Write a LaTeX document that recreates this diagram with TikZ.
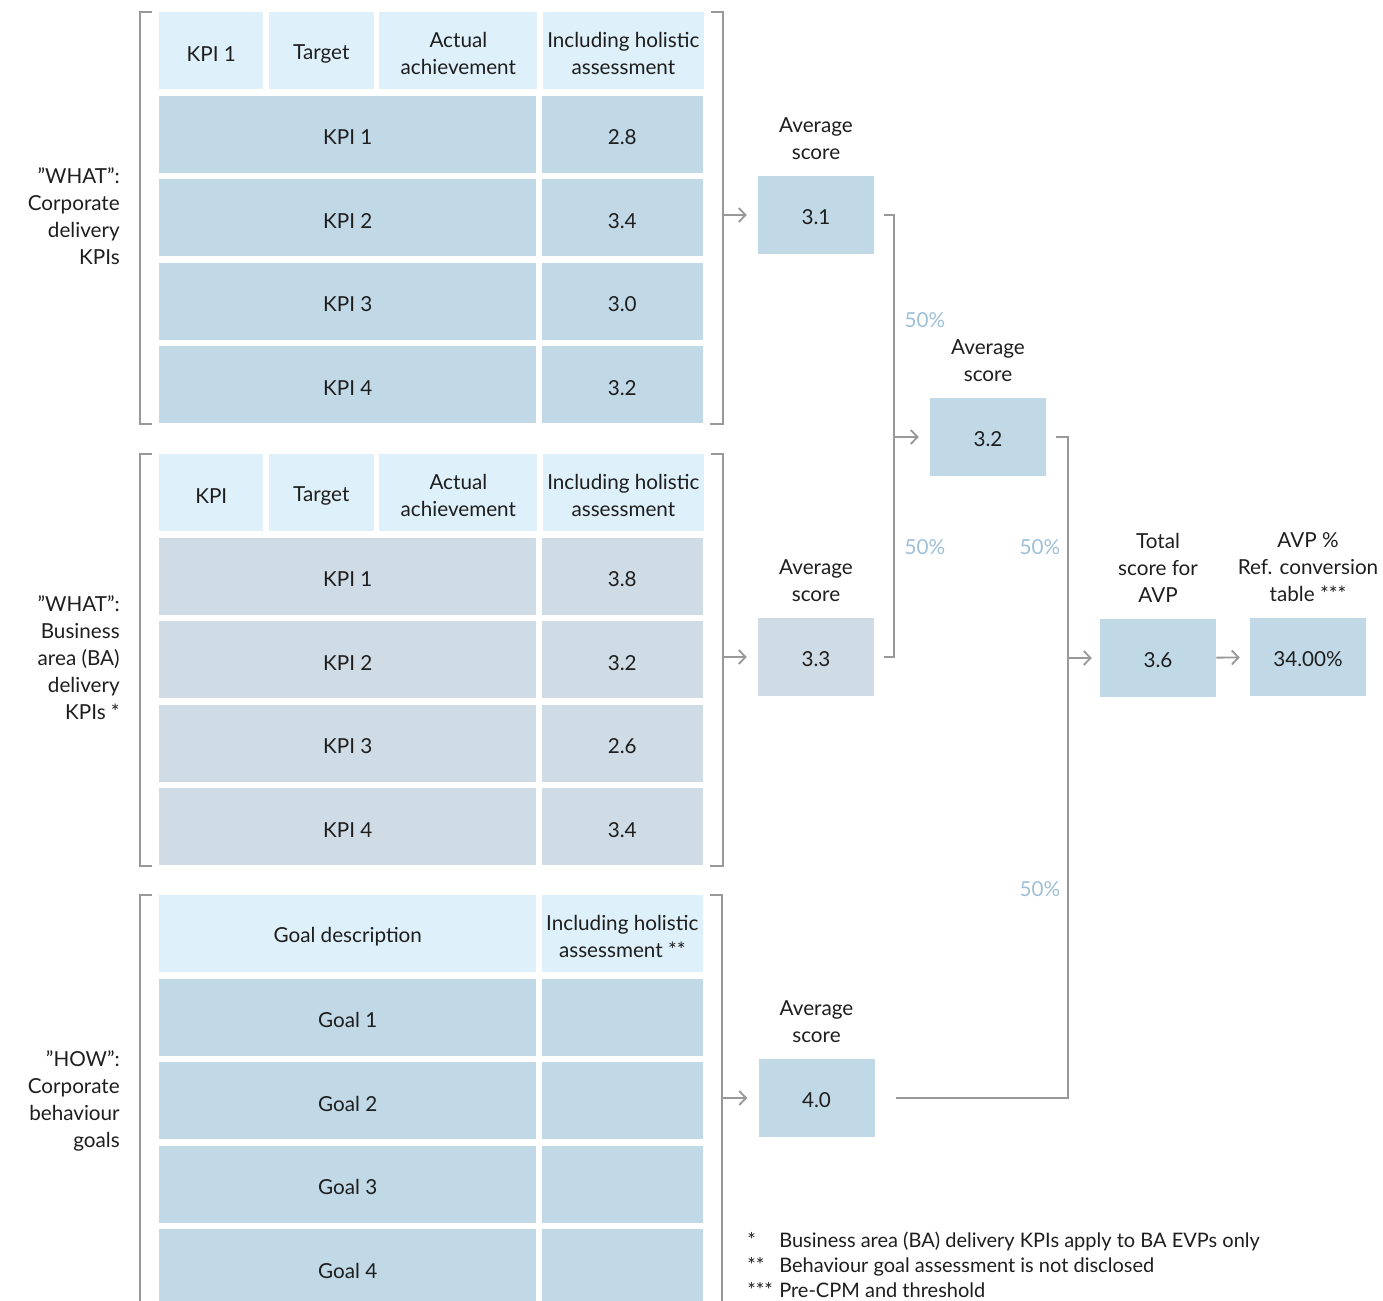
\documentclass[tikz,border=0pt]{standalone}
\usepackage{fontspec}
\setmainfont{Lato}
\usetikzlibrary{arrows.meta,positioning}
\definecolor{headfill}{HTML}{DEF0FA}
\definecolor{corpfill}{HTML}{C1D9E7}
\definecolor{bafill}{HTML}{CFDCE6}
\definecolor{linegray}{HTML}{999999}
\definecolor{pctblue}{HTML}{9DBFD7}
\definecolor{ink}{HTML}{1E1E1E}
\newcommand{\hstrut}{\rule{0pt}{15.5pt}}

\begin{document}
\begin{tikzpicture}[
  x=0.75pt, y=-0.75pt,
  every node/.style={font=\fontsize{15.5}{20.25}\selectfont, text=ink},
  cell/.style={inner sep=0pt, align=center, minimum height=57.75pt,
               execute at begin node={\hstrut}},
  head/.style={cell, fill=headfill},
  corp/.style={cell, fill=corpfill},
  ba/.style={cell, fill=bafill},
  wkpi/.style={minimum width=78pt},
  wtgt/.style={minimum width=78.75pt},
  wact/.style={minimum width=118.5pt},
  wname/.style={minimum width=282.75pt},
  wscore/.style={minimum width=120.75pt},
  sidelabel/.style={anchor=east, align=right, inner sep=0pt},
  avgbox/.style={inner sep=0pt, minimum width=87pt, minimum height=58.5pt, fill=corpfill,
                 execute at begin node={\rule{0pt}{14pt}}},
  caption/.style={inner sep=0pt, align=center},
  pct/.style={inner sep=0pt, text=pctblue},
  line/.style={draw=linegray, line width=1.4pt},
  arrow/.style={line, -{Straight Barb[length=5pt,width=10.5pt]}, shorten >=8.25pt}
]
  \useasboundingbox (0,0) rectangle (1383,1301);
  \clip (0,0) rectangle (1383,1301);

  % corporate delivery KPIs
  \node[head, wkpi, anchor=north west] (h1kpi) at (159,12) {KPI 1};
  \node[head, wtgt, right=3.75pt of h1kpi] (h1tgt) {Target};
  \node[head, wact, right=3.75pt of h1tgt] (h1act) {\hstrut Actual\\achievement};
  \node[head, wscore, right=3.75pt of h1act] (h1hol) {\hstrut Including holistic\\assessment};
  \node[corp, wname, below=4.5pt of h1kpi.south west, anchor=north west] (c1a) {KPI 1};
  \node[corp, wscore, right=3.75pt of c1a] (c1b) {2.8};
  \node[corp, wname, below=4.5pt of c1a] (c2a) {KPI 2};
  \node[corp, wscore, right=3.75pt of c2a] (c2b) {3.4};
  \node[corp, wname, below=4.5pt of c2a] (c3a) {KPI 3};
  \node[corp, wscore, right=3.75pt of c3a] (c3b) {3.0};
  \node[corp, wname, below=4.5pt of c3a] (c4a) {KPI 4};
  \node[corp, wscore, right=3.75pt of c4a] (c4b) {3.2};
  \node[sidelabel] (lblA) at (120,216) {”WHAT”:\\Corporate\\delivery\\KPIs};

  % business area delivery KPIs
  \node[head, wkpi, anchor=north west] (h2kpi) at (159,454) {KPI};
  \node[head, wtgt, right=3.75pt of h2kpi] (h2tgt) {Target};
  \node[head, wact, right=3.75pt of h2tgt] (h2act) {\hstrut Actual\\achievement};
  \node[head, wscore, right=3.75pt of h2act] (h2hol) {\hstrut Including holistic\\assessment};
  \node[ba, wname, below=4.5pt of h2kpi.south west, anchor=north west] (b1a) {KPI 1};
  \node[ba, wscore, right=3.75pt of b1a] (b1b) {3.8};
  \node[ba, wname, below=4.5pt of b1a] (b2a) {KPI 2};
  \node[ba, wscore, right=3.75pt of b2a] (b2b) {3.2};
  \node[ba, wname, below=4.5pt of b2a] (b3a) {KPI 3};
  \node[ba, wscore, right=3.75pt of b3a] (b3b) {2.6};
  \node[ba, wname, below=4.5pt of b3a] (b4a) {KPI 4};
  \node[ba, wscore, right=3.75pt of b4a] (b4b) {3.4};
  \node[sidelabel] (lblB) at (120,658) {”WHAT”:\\Business\\area (BA)\\delivery\\KPIs *};

  % corporate behaviour goals
  \node[head, wname, anchor=north west] (h3goal) at (159,895) {Goal description};
  \node[head, wscore, right=3.75pt of h3goal] (h3hol) {\hstrut Including holistic\\assessment **};
  \node[corp, wname, below=4.5pt of h3goal] (g1a) {Goal 1};
  \node[corp, wscore, right=3.75pt of g1a] (g1b) {};
  \node[corp, wname, below=4.5pt of g1a] (g2a) {Goal 2};
  \node[corp, wscore, right=3.75pt of g2a] (g2b) {};
  \node[corp, wname, below=4.5pt of g2a] (g3a) {Goal 3};
  \node[corp, wscore, right=3.75pt of g3a] (g3b) {};
  \node[corp, wname, below=4.5pt of g3a] (g4a) {Goal 4};
  \node[corp, wscore, right=3.75pt of g4a] (g4b) {};
  \node[sidelabel] (lblC) at (120,1101) {”HOW”:\\Corporate\\behaviour\\goals};

  % scores
  \node[avgbox] (avgA) at (816,215) {3.1};
  \node[caption, above=12pt of avgA] (capA) {Average\\score};
  \node[avgbox, fill=bafill] (avgB) at (816,657) {3.3};
  \node[caption, above=12pt of avgB] (capB) {Average\\score};
  \node[avgbox] (avgD) at (816.5,1098) {4.0};
  \node[caption, above=12pt of avgD] (capD) {Average\\score};
  \node[avgbox] (avgC) at (988,437) {3.2};
  \node[caption, above=12pt of avgC] (capC) {Average\\score};
  \node[avgbox] (total) at (1158,658) {3.6};
  \node[caption, above=12pt of total] (capT) {Total\\score for\\AVP};
  \node[avgbox] (avp) at (1308,657) {34.00\%};
  \node[caption, above=12pt of avp] (capV) {AVP \%\\Ref. conversion\\table ***};
  \node[pct] (pctA) at (925,320) {50\%};
  \node[pct] (pctB) at (925,547) {50\%};
  \node[pct] (pctC) at (1040,547) {50\%};
  \node[pct] (pctD) at (1040,889) {50\%};

  % brackets
  \draw[line] ([xshift=-5.25pt]h1kpi.north west) -- ++(-9pt,0) |- ([xshift=-5.25pt]c4a.south west);
  \draw[line] ([xshift=5.25pt]h1hol.north east) -- ++(9pt,0) |- ([xshift=5.25pt]c4b.south east);
  \draw[line] ([xshift=-5.25pt]h2kpi.north west) -- ++(-9pt,0) |- ([xshift=-5.25pt]b4a.south west);
  \draw[line] ([xshift=5.25pt]h2hol.north east) -- ++(9pt,0) |- ([xshift=5.25pt]b4b.south east);
  \draw[line] ([xshift=-5.25pt]h3goal.north west) -- ++(-9pt,0) |- ([xshift=-5.25pt]g4a.south west);
  \draw[line] ([xshift=5.25pt]h3hol.north east) -- ++(9pt,0) |- ([xshift=5.25pt]g4b.south east);
  \path (c4b.east |- avgA.west) ++(14.25pt,0) coordinate (brA);
  \path (b4b.east |- avgB.west) ++(14.25pt,0) coordinate (brB);
  \path (g4b.east |- avgD.west) ++(14.25pt,0) coordinate (brD);
  \draw[arrow] (brA) -- (avgA.west);
  \draw[arrow] (brB) -- (avgB.west);
  \draw[arrow] (brD) -- (avgD.west);

  % weighting
  \coordinate (jnA) at ([xshift=15pt]avgA.east);
  \draw[line] ([xshift=7.5pt]avgA.east) -- (jnA) |- ([xshift=7.5pt]avgB.east);
  \draw[arrow] (jnA |- avgC.west) -- (avgC.west);
  \coordinate (jnB) at ([xshift=16pt]avgC.east);
  \draw[line] ([xshift=7.5pt]avgC.east) -- (jnB) |- ([xshift=15.75pt]avgD.east);
  \draw[arrow, shorten >=6pt] (jnB |- total.west) -- (total.west);
  \draw[arrow, shorten >=7.5pt] (total) -- (avp);

  % notes
  \node[anchor=west, align=left, inner sep=0pt, font=\fontsize{15}{18.75}\selectfont] (notes) at (747,1265)
    {\makebox[24pt][l]{*}Business area (BA) delivery KPIs apply to BA EVPs only\\
     \makebox[24pt][l]{**}Behaviour goal assessment is not disclosed\\
     \makebox[24pt][l]{***}Pre-CPM and threshold};
\end{tikzpicture}
\end{document}
